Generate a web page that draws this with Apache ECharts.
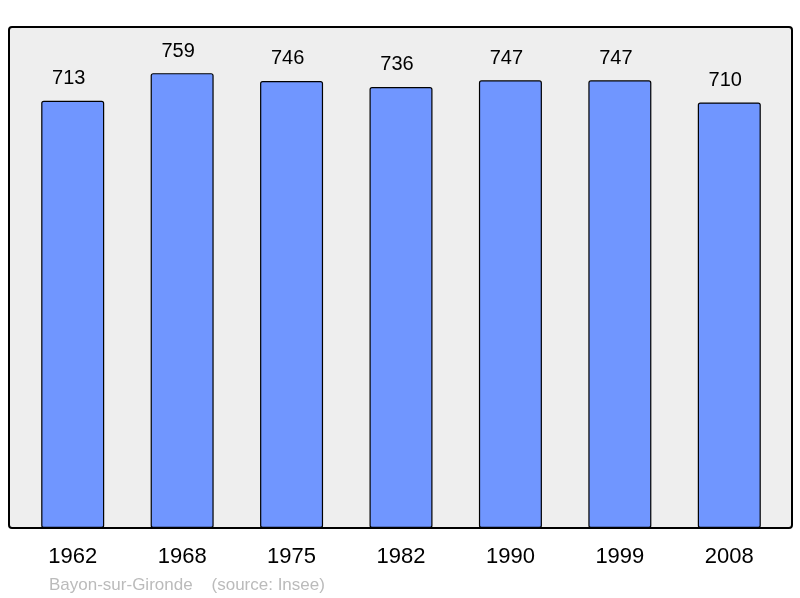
<!DOCTYPE html>
<html><head><meta charset="utf-8">
<script src="https://cdn.jsdelivr.net/npm/echarts@6/dist/echarts.min.js"></script>
<style>html,body{margin:0;padding:0;background:#fff}#c{width:800px;height:598px}</style>
</head><body><div id="c"></div>
<script>
const years = ['1962','1968','1975','1982','1990','1999','2008'];
const population = [713, 759, 746, 736, 747, 747, 710];
const footer = 'Bayon-sur-Gironde    (source: Insee)';

const FONT = 'Liberation Sans, Arial, sans-serif';
const chart = echarts.init(document.getElementById('c'), null, {renderer:'canvas'});
chart.setOption({
  animation: false,
  textStyle: {fontFamily: FONT},
  grid: {left: 18, right: 16, top: 27, bottom: 70},
  graphic: [
    {type:'rect', z: -1, shape:{x:9, y:27, width:783, height:501, r:3},
     style:{fill:'#eeeeee', stroke:'#000', lineWidth:2}},
    {type:'text', left: 49, top: 577,
     style:{text: footer, fill:'#bbbbbb', font:'17px ' + FONT}}
  ],
  xAxis: {
    type:'category', data: years,
    axisLine:{show:false}, axisTick:{show:false},
    axisLabel:{color:'#000', fontSize:22, margin:18, fontFamily: FONT}
  },
  yAxis: {type:'value', min:0, max:836, show:false, splitLine:{show:false}},
  series: [{
    type:'bar', data: population, barWidth: 63,
    itemStyle:{color:'#7096ff', borderColor:'#000', borderWidth:1.2, borderRadius:2},
    label:{show:true, position:'top', distance:12, offset:[-4,0], color:'#000', fontSize:20, fontFamily: FONT}
  }]
});
</script></body></html>
